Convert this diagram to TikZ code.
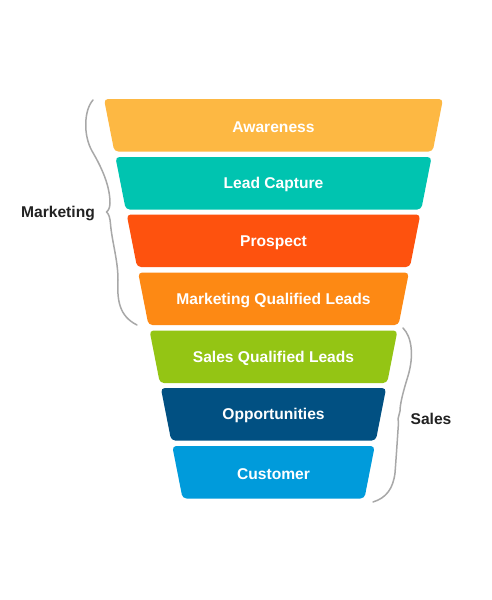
\documentclass[tikz,border=0pt]{standalone}
\usepackage{fontspec}
\setmainfont{Liberation Sans}
\definecolor{cAw}{HTML}{FDB843}
\definecolor{cLc}{HTML}{00C4B0}
\definecolor{cPr}{HTML}{FE520E}
\definecolor{cMq}{HTML}{FD8914}
\definecolor{cSq}{HTML}{94C514}
\definecolor{cOp}{HTML}{015082}
\definecolor{cCu}{HTML}{009BDB}
\definecolor{cBr}{HTML}{A8A8A8}
\definecolor{cTx}{HTML}{222222}
\tikzset{
  seglabel/.style={text=white, font=\bfseries\fontsize{15.6}{18}\selectfont, inner sep=0pt},
  sidelabel/.style={text=cTx, font=\bfseries\fontsize{15.6}{18}\selectfont, inner sep=0pt},
  bracepath/.style={draw=cBr, line width=1.5pt, line cap=round, line join=round},
}
\begin{document}
\begin{tikzpicture}[x=1pt,y=-1pt]
\useasboundingbox (0,0) rectangle (491,600);
\fill[white] (0,0) rectangle (491,600);
\def\cx{273.5}
\foreach \t/\col/\txt/\nm in {99/cAw/Awareness/s1, 157/cLc/Lead Capture/s2, 214.5/cPr/Prospect/s3, 272.5/cMq/Marketing Qualified Leads/s4, 330.5/cSq/Sales Qualified Leads/s5, 388/cOp/Opportunities/s6, 446/cCu/Customer/s7}{
  \pgfmathsetmacro\b{\t+52.5}
  \pgfmathsetmacro\wt{169.5-0.1967*(\t-99)}
  \pgfmathsetmacro\wb{169.5-0.1967*(\b-99)}
  \pgfmathsetmacro\mid{(\t+\b)/2+1.5}
  \fill[\col, rounded corners=4pt] (\cx-\wt,\t) -- (\cx+\wt,\t) -- (\cx+\wb,\b) -- (\cx-\wb,\b) -- cycle;
  \node[seglabel] (\nm) at (\cx,\mid) {\txt};
}
\node[sidelabel] (mk) at (58,213) {Marketing};
\node[sidelabel] (sl) at (431,419) {Sales};
% Marketing brace
\draw[bracepath] (93,100) .. controls (84,110) and (83,135) .. (92,151)
  .. controls (102,168) and (110,186) .. (110,203)
  .. controls (110,208) and (108,211) .. (106.5,212)
  .. controls (109,214) and (110,218) .. (110.5,224)
  .. controls (112,242) and (118,260) .. (118,280)
  .. controls (117,300) and (119,316) .. (137,325);
% Sales brace
\draw[bracepath] (403,328) .. controls (412,337) and (414,356) .. (408,376)
  .. controls (403,392) and (400,404) .. (400,411)
  .. controls (399,415) and (398.5,417) .. (398,419)
  .. controls (398.5,421) and (398.5,424) .. (398,430)
  .. controls (397,445) and (396,460) .. (395,473)
  .. controls (393,489) and (386,498) .. (373,502);
\end{tikzpicture}
\end{document}
